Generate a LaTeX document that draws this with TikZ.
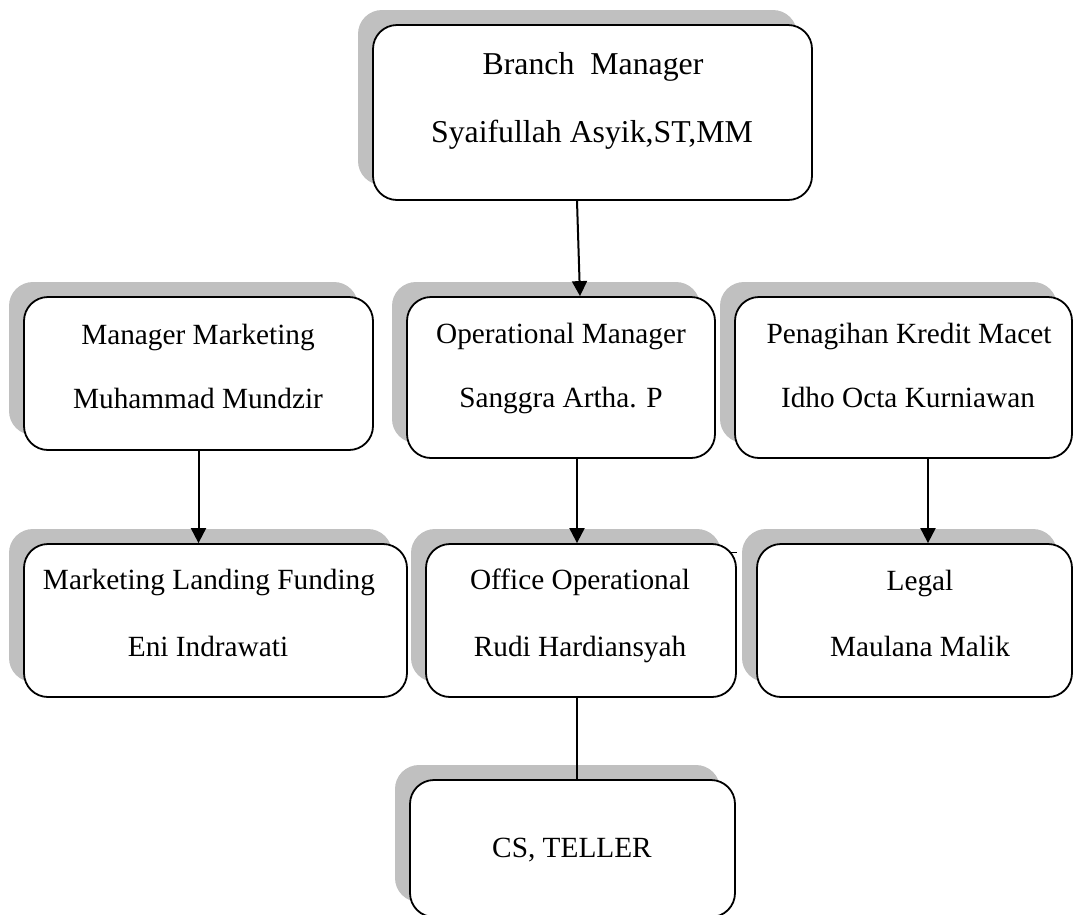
\documentclass[tikz,border=0pt]{standalone}
\usepackage{fontspec}
\setmainfont{Liberation Serif}
\usetikzlibrary{arrows.meta,shadows,calc}
\definecolor{shade}{RGB}{192,192,192}
\tikzset{
  orgbox/.style={draw, line width=1.8pt, fill=white, rounded corners=24pt, inner sep=0pt,
    general shadow={fill=shade, shadow xshift=-15pt, shadow yshift=15pt}},
  txt/.style={anchor=base, inner sep=0pt, font=\fontsize{29.3}{35}\selectfont},
  bigtxt/.style={txt, font=\fontsize{31.8}{38}\selectfont},
  link/.style={line width=2pt},
  arr/.style={link, -{Triangle[length=15pt,width=15pt]}}
}

\begin{document}
\begin{tikzpicture}[x=1pt, y=-1pt]
    \useasboundingbox (0,0) rectangle (1074,914);

    % boxes
    \node[orgbox, minimum width=439pt, minimum height=175pt] (bm) at (592.5,112.5) {};
    \node[orgbox, minimum width=349pt, minimum height=153pt] (mm) at (198.5,373.5) {};
    \node[orgbox, minimum width=308pt, minimum height=161pt] (om) at (561,377.5) {};
    \node[orgbox, minimum width=337pt, minimum height=161pt] (pk) at (903.5,377.5) {};
    \node[orgbox, minimum width=383pt, minimum height=153pt] (mlf) at (215.5,620.5) {};
    \node[orgbox, minimum width=310pt, minimum height=153pt] (oo) at (581,620.5) {};
    \node[orgbox, minimum width=315pt, minimum height=153pt] (lg) at (914.5,620.5) {};
    \node[orgbox, minimum width=325pt, minimum height=137pt] (cs) at (572.5,848.5) {};

    % texts
    \node[bigtxt] (bm1) at (593,74) {Branch\ \ Manager};
    \node[bigtxt] (bm2) at (592,142) {Syaifullah Asyik,ST,MM};
    \node[txt] (mm1) at (198,344) {Manager Marketing};
    \node[txt] (mm2) at (198,408) {Muhammad Mundzir};
    \node[txt] (om1) at (561,343) {Operational Manager};
    \node[txt] (om2) at (561,407) {Sanggra Artha. P};
    \node[txt] (pk1) at (909,343) {Penagihan Kredit Macet};
    \node[txt] (pk2) at (908,407) {Idho Octa Kurniawan};
    \node[txt] (mlf1) at (209,589) {Marketing Landing Funding};
    \node[txt] (mlf2) at (208,656) {Eni Indrawati};
    \node[txt] (oo1) at (580,589) {Office Operational};
    \node[txt] (oo2) at (580,656) {Rudi Hardiansyah};
    \node[txt] (lg1) at (920,590) {Legal};
    \node[txt] (lg2) at (920,656) {Maulana Malik};
    \node[txt] (cs1) at (572,857) {CS, TELLER};

    % connectors
    \draw[arr] ([xshift=-15.5pt]bm.south) -- ([xshift=19pt]om.north);
    \draw[arr] (mm.south) -- (mm.south |- mlf.north);
    \draw[arr] ([xshift=16pt]om.south) -- ([xshift=16pt]om.south |- oo.north);
    \draw[arr] ([xshift=24.5pt]pk.south) -- ([xshift=24.5pt]pk.south |- lg.north);
    \draw[link] ([xshift=-4pt]oo.south) -- ([xshift=-4pt]oo.south |- cs.north);

    % small stray tick
    \coordinate (tick) at ([xshift=-8pt,yshift=-9pt]oo.north east);
    \draw[line width=1.2pt] (tick) -- ++(8,0);
\end{tikzpicture}
\end{document}
